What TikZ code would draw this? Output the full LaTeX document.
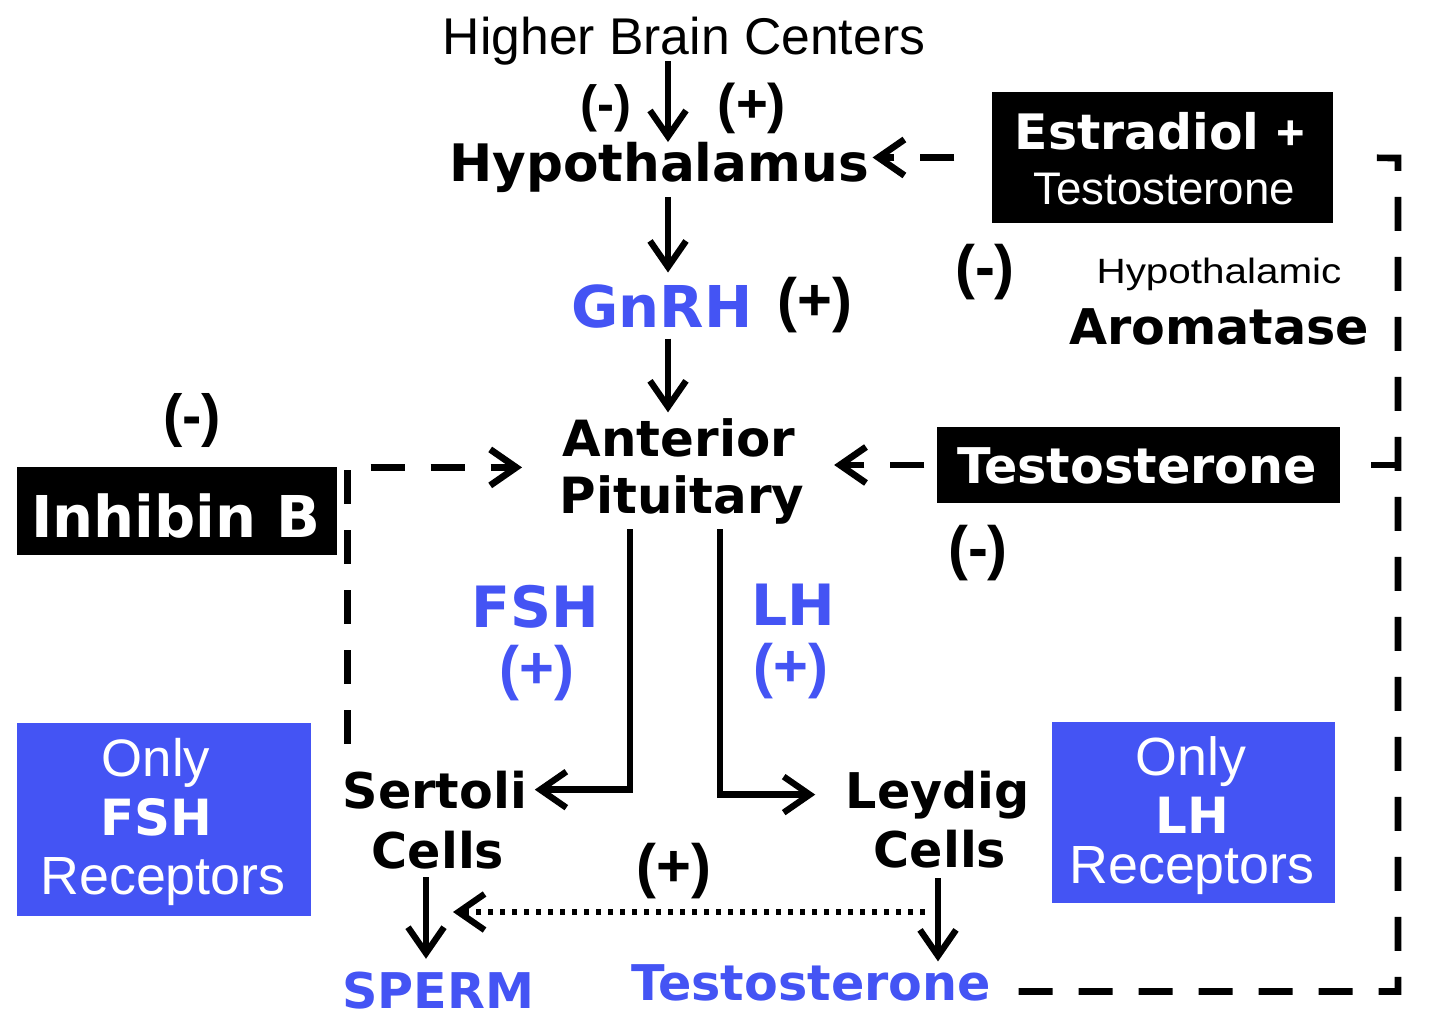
\documentclass[tikz,border=0pt]{standalone}
\usepackage{fontspec}
\setmainfont{Liberation Sans}
\newfontfamily\heavyfont{DejaVu Sans}
\usetikzlibrary{arrows.meta}

\definecolor{hormblue}{RGB}{68,84,244}
\newcommand{\fsz}[1]{\fontsize{#1}{#1}\selectfont}
\newcommand{\hv}{\heavyfont\bfseries}

\begin{document}
\begin{tikzpicture}[x=0.1mm, y=-0.1mm, inner sep=0pt,
    txt/.style={anchor=base, font=\fsz{#1}},
    hvy/.style={anchor=base, font=\hv\fsz{#1}},
    sign/.style={font=\bfseries\fsz{#1}},
    blackbox/.style={fill=black, text=white},
    bluebox/.style={fill=hormblue, text=white},
    arr/.style={line width=1.8pt, -{Straight Barb[length=2.6mm,width=3.6mm]}},
    dsh/.style={line width=1.9pt, dash pattern=on 3.4mm off 2.6mm},
    dotline/.style={line width=1.8pt, dash pattern=on 0.55mm off 0.65mm}]

    \useasboundingbox (0,0) rectangle (1440,1016);

    % axis down the middle
    \coordinate (axis) at (668,0);
    \node[txt=14.7] (hbc) at (684,55) {Higher Brain Centers};
    \node[sign=14.5] (hbcneg) at (606,108) {(-)};
    \node[sign=15.5] (hbcpos) at (752,108) {(+)};
    \node[hvy=14.7] (hypo) at (659,182) {Hypothalamus};
    \node[hvy=16.4, text=hormblue] (gnrh) at (662,328) {GnRH};
    \node[sign=17] (gnrhpos) at (815,305) {(+)};
    \node[hvy=14.2] (ant) at (679,457) {Anterior};
    \node[hvy=14.2] (pit) at (682,513) {Pituitary};

    % gonadotropins
    \node[hvy=16.2, text=hormblue] (fsh) at (535,627) {FSH};
    \node[sign=17, text=hormblue] (fshpos) at (537,673) {(+)};
    \node[hvy=16.2, text=hormblue] (lh) at (793,625) {LH};
    \node[sign=17, text=hormblue] (lhpos) at (791,671) {(+)};

    % testis
    \node[hvy=14] (sertoli) at (435,808) {Sertoli};
    \node[hvy=14] (sertolic) at (438,868) {Cells};
    \node[hvy=14] (leydig) at (938,808) {Leydig};
    \node[hvy=14] (leydigc) at (940,867) {Cells};
    \node[hvy=14, text=hormblue] (sperm) at (438,1008) {SPERM};
    \node[hvy=14, text=hormblue] (testob) at (811,1000) {Testosterone};
    \node[sign=17] (testopos) at (674,871) {(+)};
    \coordinate (tdot) at (925,912);
    \coordinate (sdot) at (453,912);

    % feedback boxes
    \node[blackbox, minimum width=34.1mm, minimum height=13.1mm] (estr) at (1162.5,157.5) {};
    \node[hvy=13.9, text=white] (estrname) at (1160,150) {Estradiol {\normalfont\bfseries +}};
    \node[txt=13, text=white] (estrtesto) at (1164,205) {Testosterone};
    \node[sign=17] (estrneg) at (985,272) {(-)};
    \node[txt=10, xscale=1.15] (hypoth) at (1219,284) {Hypothalamic};
    \node[hvy=14] (arom) at (1219,345) {Aromatase};

    \node[blackbox, minimum width=40.3mm, minimum height=7.6mm] (testo) at (1138.5,465) {};
    \node[hvy=14, text=white] (testoname) at (1137,483) {Testosterone};
    \node[sign=17] (testoneg) at (978,553) {(-)};

    \node[blackbox, minimum width=32mm, minimum height=8.8mm] (inhib) at (177,511) {};
    \node[hvy=16.4, text=white] (inhibname) at (176,537) {Inhibin B};
    \node[sign=16.5] (inhibneg) at (192,421) {(-)};

    % receptor boxes
    \node[bluebox, minimum width=29.4mm, minimum height=19.3mm] (fshbox) at (164,819.5) {};
    \node[txt=15, text=white] (fshonly) at (156,776) {Only};
    \node[hvy=14.2, text=white] (fshname) at (156,835) {FSH};
    \node[txt=15.3, text=white] (fshrec) at (163,894) {Receptors};
    \node[bluebox, minimum width=28.3mm, minimum height=18.1mm] (lhbox) at (1193.5,812.5) {};
    \node[txt=15.3, text=white] (lhonly) at (1191,775) {Only};
    \node[hvy=14.2, text=white] (lhname) at (1192,833) {LH};
    \node[txt=15.3, text=white] (lhrec) at (1192,883) {Receptors};

    % solid arrows
    \draw[arr, shorten <=-0.5mm] (hbc.south -| axis) -- (hypo.north -| axis);
    \draw[arr, shorten <=0.3mm, shorten >=1.2mm] (hypo.south -| axis) -- (gnrh.north -| axis);
    \draw[arr, shorten <=0.9mm, shorten >=0.6mm] (gnrh.south -| axis) -- (ant.north -| axis);
    \draw[arr, shorten <=0.5mm, shorten >=0.7mm] ([xshift=-5.2mm]pit.south) |- (sertoli.east);
    \draw[arr, shorten <=0.5mm, shorten >=3mm] ([xshift=3.8mm]pit.south) |- (leydig.west);
    \draw[arr, shorten <=0.8mm, shorten >=1.2mm] ([xshift=-1.2mm]sertolic.south) -- ([xshift=-1.2mm]sertolic.south |- sperm.north);
    \draw[arr, shorten <=1mm, shorten >=0.2mm] ([xshift=-0.2mm]leydigc.south) -- ([xshift=-0.2mm]leydigc.south |- testob.north);
    \draw[dotline, -{Straight Barb[length=2.6mm,width=3.6mm]}] (tdot) -- (sdot);

    % negative feedback
    \draw[dsh, -{Straight Barb[length=2.6mm,width=3.6mm]}, shorten <=3.7mm, shorten >=0.3mm]
        (estr.west) -- (estr.west -| hypo.east);
    \draw[dsh, -{Straight Barb[length=2.6mm,width=3.6mm]}, shorten <=1.2mm, shorten >=2.9mm]
        (testo.west) -- (testo.west -| pit.east);
    \draw[dsh, -{Straight Barb[length=2.6mm,width=3.6mm]}]
        ([xshift=0.5mm, yshift=2.6mm]sertoli.north west) |- ([xshift=-4mm, yshift=-0.9mm]ant.south west);
    \coordinate (rail) at (1398,158);
    \draw[dsh, shorten <=2.7mm, shorten >=2.2mm] ([yshift=-0.9mm]testob.east) -| (rail) -- (estr.east);
    \draw[dsh, shorten >=3mm] (testo.east -| rail) -- (testo.east);

\end{tikzpicture}
\end{document}
